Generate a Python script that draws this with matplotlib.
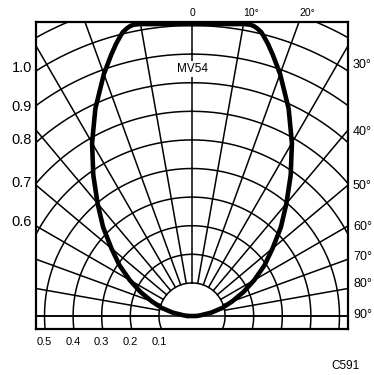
import numpy as np
import matplotlib
matplotlib.use('Agg')
import matplotlib.pyplot as plt

plt.rcParams['font.family'] = ['Liberation Sans', 'DejaVu Sans']

# relative intensity vs angle (one half, the pattern is symmetric)
angle_deg = [0, 4, 8, 10, 11.3, 12, 12.7, 13.7, 14.5, 15.6, 17.2, 20, 25,
             30, 35, 40, 45, 50, 55, 60, 65, 70, 75, 80, 85, 90]
intensity = [1.005, 1.008, 1.015, 1.021, 1.023, 1.021, 1.016, 1.006, 0.992,
             0.972, 0.940, 0.885, 0.784, 0.683, 0.586, 0.498, 0.424, 0.352,
             0.294, 0.236, 0.183, 0.134, 0.095, 0.053, 0.015, 0.0]

ring_values = [0.1, 0.2, 0.3, 0.4, 0.5, 0.6, 0.7, 0.8, 0.9, 1.0, 1.1, 1.2]
spoke_angles = list(range(-90, 91, 10))

left_labels = ['1.0', '0.9', '0.8', '0.7', '0.6']
right_labels = ['30°', '40°', '50°', '60°', '70°', '80°', '90°']
top_labels = ['0', '10°', '20°']
bottom_labels = ['0.5', '0.4', '0.3', '0.2', '0.1']
bottom_values = [0.5, 0.4, 0.3, 0.2, 0.1]

R0 = 0.0157   # rings in the print start slightly off the origin

W, H = 374, 375
fig = plt.figure(figsize=(W / 100, H / 100), dpi=100)
ax = fig.add_axes([36 / W, (H - 329) / H, 312 / W, 307 / H])
ax.set_xlim(-156 / 286, 156 / 286)
ax.set_ylim(-13 / 286, 294 / 286)
ax.set_xticks([])
ax.set_yticks([])
for s in ax.spines.values():
    s.set_linewidth(1.6)
    s.set_color('black')


def polar_xy(theta, v):
    t = np.radians(np.asarray(theta, dtype=float))
    rho = R0 + np.asarray(v, dtype=float)
    return rho * np.sin(t), rho * np.cos(t)


# grid rings
t = np.linspace(0, 360, 721)
for v in ring_values:
    x, y = polar_xy(t, np.full_like(t, v))
    ax.plot(x, y, color='black', lw=1.1, zorder=1)

# spokes, starting at the 0.1 ring
for a in spoke_angles:
    x, y = polar_xy([a, a], [0.1, 2.0])
    ax.plot(x, y, color='black', lw=1.1, zorder=1)
ax.axhline(0, color='black', lw=1.1, zorder=1)

ax.text(0, (316 - 69) / 286, 'MV54', ha='center', va='center', fontsize=8.5,
        zorder=2, bbox=dict(facecolor='white', edgecolor='none', pad=1.5))

# pattern curve, mirrored
th = [-a for a in angle_deg[::-1]] + angle_deg[1:]
iv = intensity[::-1] + intensity[1:]
cx, cy = polar_xy(th, iv)
cx = np.append(cx, cx[0])
cy = np.append(cy, cy[0])
ax.plot(cx, cy, color='black', lw=3.3, solid_joinstyle='round',
        solid_capstyle='round', zorder=3)

# bottom scale labels under the rings
for lab, v in zip(bottom_labels, bottom_values):
    ax.text(-(R0 + v), (316 - 342) / 286, lab, ha='center', va='center',
            fontsize=8, clip_on=False)


def px(x, y):
    return x / W, 1 - y / H


for lab, y in zip(left_labels, [68, 107, 140, 183, 222]):
    fig.text(*px(32, y), lab, ha='right', va='center', fontsize=10.5)
for lab, y in zip(right_labels, [65, 132, 186, 227, 257, 284, 315]):
    fig.text(*px(353, y), lab, ha='left', va='center', fontsize=9)
for lab, x in zip(top_labels, [192.5, 251.5, 307.5]):
    fig.text(*px(x, 13), lab, ha='center', va='center', fontsize=7.5)
fig.text(*px(346, 366), 'C591', ha='center', va='center', fontsize=8.5)

fig.savefig('out.png', dpi=100)
